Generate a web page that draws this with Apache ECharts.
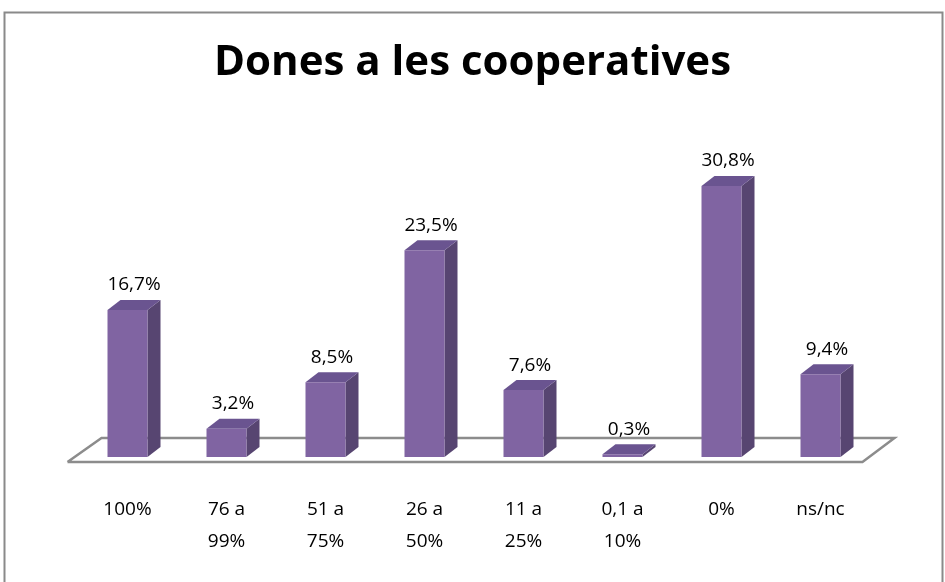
<!DOCTYPE html>
<html><head><meta charset="utf-8">
<script src="https://cdn.jsdelivr.net/npm/echarts@6/dist/echarts.min.js"></script>
<style>html,body{margin:0;padding:0;background:#fff}#c{width:945px;height:582px}</style>
</head><body><div id="c"></div>
<script>
var title = 'Dones a les cooperatives';
var categories = ['100%', '76 a\n99%', '51 a\n75%', '26 a\n50%', '11 a\n25%', '0,1 a\n10%', '0%', 'ns/nc'];
var values = [16.7, 3.2, 8.5, 23.5, 7.6, 0.3, 30.8, 9.4];
var valueLabels = ['16,7%', '3,2%', '8,5%', '23,5%', '7,6%', '0,3%', '30,8%', '9,4%'];

var FONT = '"Open Sans", Lato, sans-serif';
var DX = 13, DY = 10, HALF = 20;

var chart = echarts.init(document.getElementById('c'), null, {renderer: 'canvas'});

function renderBar(params, api) {
  var idx = api.value(0);
  var v = api.value(1);
  var base = api.coord([idx, 0]);
  var top = api.coord([idx, v]);
  var x0 = base[0] - HALF, x1 = base[0] + HALF;
  var yb = base[1], yt = top[1];
  return {
    type: 'group',
    children: [
      {type: 'polygon', shape: {points: [[x1, yt], [x1 + DX, yt - DY], [x1 + DX, yb - DY], [x1, yb]]},
       style: {fill: '#574571'}},
      {type: 'polygon', shape: {points: [[x0, yt], [x0 + DX, yt - DY], [x1 + DX, yt - DY], [x1, yt]]},
       style: {fill: '#6A5490'}},
      {type: 'rect', shape: {x: x0, y: yt, width: x1 - x0, height: Math.max(yb - yt, 0.5)},
       style: {fill: '#8064A2'}},
      {type: 'text', style: {text: valueLabels[idx], x: base[0] + DX / 2, y: yt - 25,
        align: 'center', verticalAlign: 'middle', fill: '#000', font: '19px ' + FONT}}
    ]
  };
}

function renderFloor(params, api) {
  var a = api.coord([0, 0]);
  var b = api.coord([categories.length - 1, 0]);
  var bw = api.size([1, 0])[0];
  var l = a[0] - bw * 0.606, r = b[0] + bw * 0.424;
  var y = a[1] + 5;
  return {
    type: 'polyline',
    shape: {points: [[l, y], [l + 34, y - 24], [r + 32, y - 24], [r, y], [l, y]]},
    style: {stroke: '#8c8c8c', lineWidth: 2.5, fill: null},
    z2: -10
  };
}

chart.setOption({
  animation: false,
  backgroundColor: '#fff',
  title: {
    text: title, left: 'center', top: 37,
    textStyle: {fontFamily: FONT, fontWeight: 'bold', fontSize: 42, color: '#000'}
  },
  graphic: [{
    type: 'rect', shape: {x: 4.5, y: 12.5, width: 938, height: 600},
    style: {fill: null, stroke: '#8a8a8a', lineWidth: 2}, silent: true
  }],
  grid: {left: 78, width: 792, top: 105, height: 352},
  xAxis: {
    type: 'category', data: categories,
    axisLine: {show: false}, axisTick: {show: false},
    axisLabel: {margin: 37, fontFamily: FONT, fontSize: 19, color: '#000', lineHeight: 32}
  },
  yAxis: {type: 'value', min: 0, max: 40, show: false, splitLine: {show: false}},
  series: [
    {type: 'custom', renderItem: renderFloor, data: [[0, 0]], z: 1, silent: true},
    {type: 'custom', renderItem: renderBar,
     data: values.map(function (v, i) { return [i, v]; }), z: 2,
     encode: {x: 0, y: 1}}
  ]
});
</script></body></html>
